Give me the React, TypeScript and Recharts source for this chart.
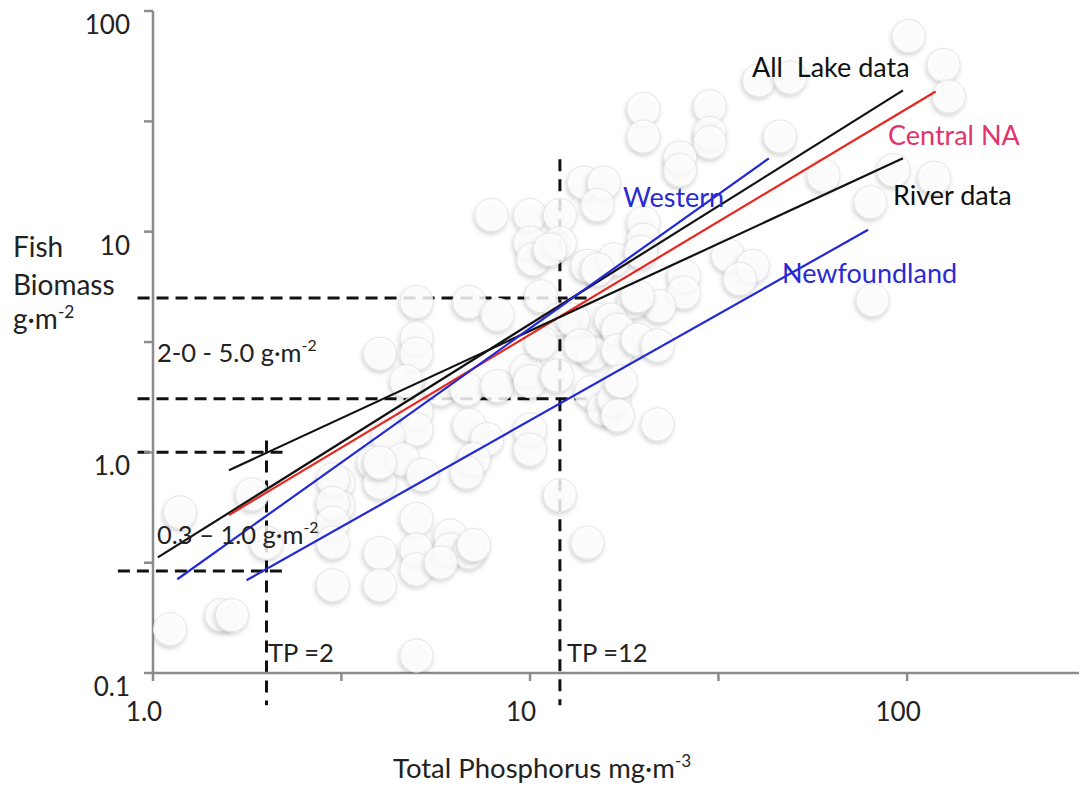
import React from 'react';
import { ScatterChart, Scatter, XAxis, YAxis, ReferenceLine } from 'recharts';

const FONT = 'Lato, "Open Sans", sans-serif';

// Lake observations: total phosphorus (mg·m-3) and fish biomass (g·m-2)
const lakeTP = [
  101, 125, 129, 40.5, 49, 20, 20, 30, 30, 30, 25, 25, 46, 60, 80, 118, 92, 81,
  20, 20, 33.5, 39, 36, 25.6, 25.6, 22, 18.8,
  7.9, 10, 10, 10.2, 12, 12, 13.9, 15.7, 15.1, 11.3, 14.2, 16.7, 19.7,
  6.9, 8.2, 10.7, 13.9, 15.1, 16.4, 19.3, 12, 13, 5.0,
  4.0, 5.0, 5.0, 4.7, 5.8, 6.8, 8.2, 9.8, 10.7, 10, 17.1, 14.7, 17.1, 13.6,
  19.3, 21.8, 14.5, 15.7, 16.7, 17.4, 17.1, 21.8, 11.8, 5.0, 5.0, 4.2, 3.84,
  4.6, 5.2, 6.9, 7.7, 7.1, 6.8, 10, 10, 3.1, 3.1, 4.0, 5.0, 4.0, 5.0, 6.15,
  6.15, 6.9, 12, 14.2,
  1.18, 1.11, 1.52, 1.62, 1.83, 2.0, 3.0, 3.0, 3.0, 3.0, 3.0, 4.0, 4.0, 5.0,
  5.8, 7.1, 5.0, 15.1,
];
const lakeBiomass = [
  77, 57, 41, 48.5, 50, 36, 27, 37, 28, 25.4, 21.7, 19, 27, 18, 13.6, 17.6, 19, 4.9,
  11, 9.2, 7.8, 7.0, 6.1, 6.3, 5.3, 4.6, 4.8,
  11.9, 11.9, 8.9, 7.5, 11.9, 8.9, 16.7, 16.7, 13.2, 8.3, 7.0, 7.5, 8.1,
  4.8, 4.2, 5.1, 4.0, 4.0, 4.0, 5.1, 4.0, 4.0, 4.8,
  2.8, 3.3, 2.8, 2.1, 1.93, 1.93, 2.0, 2.35, 3.15, 2.1, 3.6, 2.8, 2.9, 3.05,
  3.25, 3.05, 1.87, 1.57, 1.74, 2.1, 1.47, 1.34, 2.23, 1.52, 1.27, 1.19, 0.9,
  0.93, 0.79, 1.33, 1.15, 0.93, 0.81, 1.27, 1.03, 0.73, 0.575, 0.73, 0.5, 0.35, 0.363, 0.42,
  0.363, 0.352, 0.64, 0.39,
  0.535, 0.158, 0.183, 0.183, 0.645, 0.39, 0.755, 0.59, 0.48, 0.39, 0.25, 0.9, 0.25, 0.295,
  0.317, 0.38, 0.12, 6.75,
];

// Regression lines (end points)
const allLakeTP = [1.03, 97.5];
const allLakeFB = [0.334, 43.7];
const centralTP = [1.59, 119];
const centralFB = [0.52, 43.2];
const riverTP = [1.59, 97.5];
const riverFB = [0.83, 21.5];
const westernTP = [1.16, 43];
const westernFB = [0.266, 21.5];
const newfTP = [1.77, 78.8];
const newfFB = [0.263, 10.2];

// Dashed guides: biomass levels and TP marks
const guideLevels = [5.0, 1.75, 1.0, 0.29];
const guideFromTP = [0.91, 0.91, 0.91, 0.807];
const guideToTP = [14.2, 14.2, 2.24, 2.24];
const tpMarks = [2, 12];
const tpMarkFrom = [0.0714, 0.0714];
const tpMarkTo = [1.13, 21.3];

// Axis ticks
const xTicks = [1, 3.16, 10, 31.6, 100];
const xTickText = ['1.0', '', '10', '', '100'];
const yTicks = [0.1, 0.316, 1, 3.16, 10, 31.6, 100];
const yTickText = ['0.1', '', '1.0', '', '10', '', '100'];

const toPoints = (tp: number[], fb: number[]) => tp.map((v, i) => ({ tp: v, fb: fb[i] }));

const lakes = toPoints(lakeTP, lakeBiomass);
const regressions = [
  { data: toPoints(allLakeTP, allLakeFB), color: '#111111' },
  { data: toPoints(centralTP, centralFB), color: '#e8261e' },
  { data: toPoints(riverTP, riverFB), color: '#111111' },
  { data: toPoints(westernTP, westernFB), color: '#2228d6' },
  { data: toPoints(newfTP, newfFB), color: '#2228d6' },
];

const AXIS = '#8c8c8c';

const Bubble = (props: any) => {
  const { cx, cy } = props;
  if (cx == null || cy == null) return <g />;
  return (
    <circle cx={cx} cy={cy} r={16.5} fill="#ffffff" fillOpacity={0.82} stroke="#e4e4e4"
      strokeWidth={1} filter="url(#bubbleShadow)" />
  );
};

const NoDot = () => <g />;

const XTick = (props: any) => {
  const { x, y, payload } = props;
  const i = xTicks.findIndex((t) => Math.abs(t - payload.value) < 1e-6);
  const text = i >= 0 ? xTickText[i] : '';
  return (
    <text x={x - 9} y={y + 38} textAnchor="middle" fontSize={26} fill="#222" fontFamily={FONT}>
      {text}
    </text>
  );
};

const YTick = (props: any) => {
  const { x, y, payload } = props;
  const i = yTicks.findIndex((t) => Math.abs(t - payload.value) < 1e-6);
  const text = i >= 0 ? yTickText[i] : '';
  return (
    <text x={x + 4} y={y + 23} textAnchor="end" fontSize={26} fill="#222" fontFamily={FONT}>
      {text}
    </text>
  );
};

const Sup = ({ children }: { children: React.ReactNode }) => (
  <tspan dy={-11} fontSize="62%">{children}</tspan>
);

export default function App() {
  return (
    <div style={{ position: 'relative', width: 1079, height: 779, fontFamily: FONT }}>
      <svg width={0} height={0} style={{ position: 'absolute' }}>
        <defs>
          <filter id="bubbleShadow" x="-40%" y="-40%" width="180%" height="180%">
            <feDropShadow dx={-1} dy={2.5} stdDeviation={2} floodColor="#000" floodOpacity={0.2} />
          </filter>
        </defs>
      </svg>
      <ScatterChart width={1079} height={779} margin={{ top: 3, right: 0, bottom: 0, left: 0 }}>
        <XAxis
          type="number"
          dataKey="tp"
          scale="log"
          domain={[1, 300]}
          allowDataOverflow
          ticks={xTicks}
          interval={0}
          height={114}
          stroke={AXIS}
          axisLine={{ stroke: AXIS, strokeWidth: 2.5 }}
          tickLine={{ stroke: AXIS, strokeWidth: 2.5 }}
          tickSize={8}
          tick={<XTick />}
        />
        <YAxis
          type="number"
          dataKey="fb"
          scale="log"
          domain={[0.1, 100]}
          allowDataOverflow
          ticks={yTicks}
          interval={0}
          width={145}
          stroke={AXIS}
          axisLine={{ stroke: AXIS, strokeWidth: 2.5 }}
          tickLine={{ stroke: AXIS, strokeWidth: 2.5 }}
          tickSize={9}
          tickMargin={18}
          tick={<YTick />}
        />
        <Scatter data={lakes} shape={<Bubble />} isAnimationActive={false} legendType="none" />
        {guideLevels.map((lv, i) => (
          <ReferenceLine
            key={'h' + i}
            segment={[{ x: guideFromTP[i], y: lv }, { x: guideToTP[i], y: lv }]}
            stroke="#111"
            strokeWidth={3}
            strokeDasharray="12 7"
            ifOverflow="visible"
          />
        ))}
        {tpMarks.map((tp, i) => (
          <ReferenceLine
            key={'v' + i}
            segment={[{ x: tp, y: tpMarkTo[i] }, { x: tp, y: tpMarkFrom[i] }]}
            stroke="#111"
            strokeWidth={3}
            strokeDasharray="12 8"
            ifOverflow="visible"
          />
        ))}
        {regressions.map((r, i) => (
          <Scatter
            key={'r' + i}
            data={r.data}
            line={{ stroke: r.color, strokeWidth: 2.2 }}
            shape={<NoDot />}
            isAnimationActive={false}
            legendType="none"
          />
        ))}
      </ScatterChart>
      <svg width={1079} height={779}
        style={{ position: 'absolute', left: 0, top: 0, pointerEvents: 'none', overflow: 'visible' }}
        fontFamily={FONT}>
        <g fontSize={28} fill="#222">
          <text x={5} y={249}>Fish</text>
          <text x={5} y={287}>Biomass</text>
          <text x={5} y={321}>g·m<Sup>-2</Sup></text>
        </g>
        <text x={385} y={770} fontSize={27.5} fill="#222">Total Phosphorus mg·m<Sup>-3</Sup></text>
        <g fontSize={25.5} fill="#222">
          <text x={149} y={354}>2-0 - 5.0 g·m<Sup>-2</Sup></text>
          <text x={149} y={536}>0.3 – 1.0 g·m<Sup>-2</Sup></text>
          <text x={260} y={654}>TP =2</text>
          <text x={559} y={654}>TP =12</text>
        </g>
        <g fontSize={27}>
          <text x={744} y={69} fill="#111">{'All\u00A0 Lake data'}</text>
          <text x={880} y={137} fill="#e2336c">Central NA</text>
          <text x={885} y={197} fill="#111">River data</text>
          <text x={615} y={199} fill="#2a2ad2">Western</text>
          <text x={774} y={275} fill="#2a2ad2">Newfoundland</text>
        </g>
      </svg>
    </div>
  );
}
